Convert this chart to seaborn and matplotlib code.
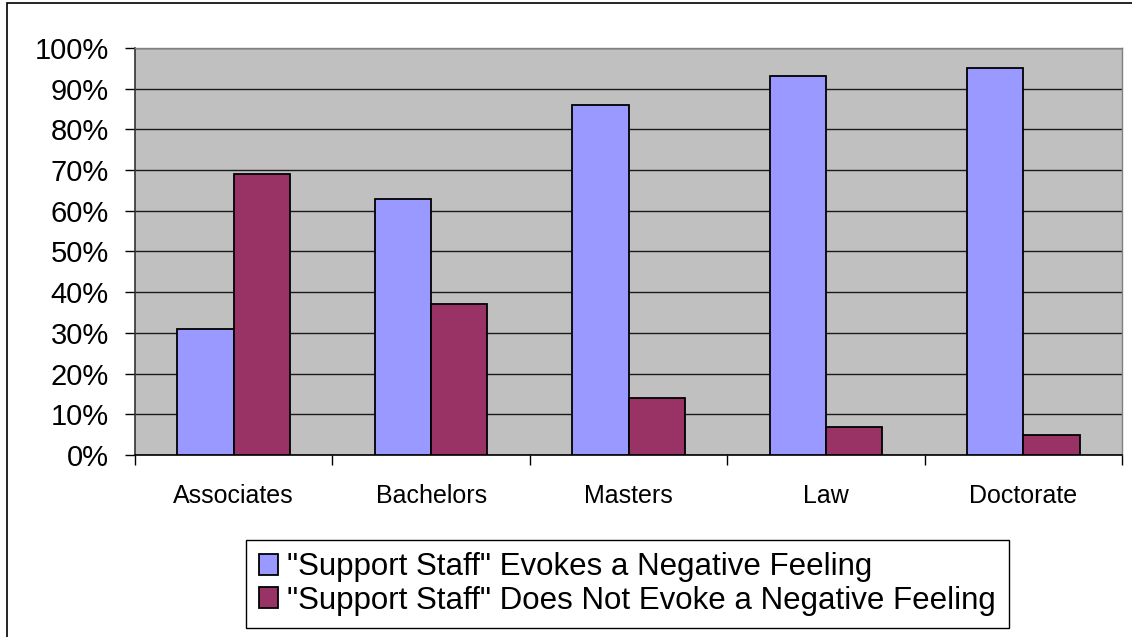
import pandas as pd
import matplotlib
matplotlib.use("Agg")
import matplotlib.pyplot as plt
import seaborn as sns
from matplotlib.patches import Rectangle
from matplotlib.ticker import FixedLocator, PercentFormatter

# Données
degrees = ["Associates", "Bachelors", "Masters", "Law", "Doctorate"]
negative = [31, 63, 86, 93, 95]
not_negative = [69, 37, 14, 7, 5]
series_names = ['"Support Staff" Evokes a Negative Feeling',
                '"Support Staff" Does Not Evoke a Negative Feeling']
colors = ["#9999FF", "#993366"]

df = pd.DataFrame({
    "degree": degrees * 2,
    "pct": negative + not_negative,
    "series": [series_names[0]] * len(degrees) + [series_names[1]] * len(degrees),
})

sns.set_style("white")
plt.rcParams["font.family"] = ["Liberation Sans", "DejaVu Sans"]
plt.rcParams["text.color"] = "black"
plt.rcParams["xtick.color"] = "black"
plt.rcParams["ytick.color"] = "black"

fig = plt.figure(figsize=(11.32, 6.37), dpi=100)
ax = fig.add_axes([0.1193, 0.2857, 0.8719, 0.639])

sns.barplot(data=df, x="degree", y="pct", hue="series", palette=colors,
            saturation=1, width=0.57, edgecolor="black", linewidth=1.3,
            ax=ax, zorder=3)

ax.set_facecolor("#C0C0C0")
ax.set_ylim(0, 100)
ax.set_xlim(-0.5, len(degrees) - 0.5)
ax.set_yticks(range(0, 101, 10))
ax.yaxis.set_major_formatter(PercentFormatter(decimals=0))
ax.grid(axis="y", color="#1a1a1a", linewidth=1, zorder=0)
ax.set_axisbelow(True)
ax.set_xlabel("")
ax.set_ylabel("")

for s in ["top", "right"]:
    ax.spines[s].set_color("#808080")
    ax.spines[s].set_linewidth(1)
ax.spines["left"].set_color("#333333")
ax.spines["bottom"].set_color("black")
ax.spines["left"].set_linewidth(1.2)
ax.spines["bottom"].set_linewidth(1.2)

ax.tick_params(axis="y", direction="out", length=7, width=1, color="black",
               labelsize=21, pad=12, left=True)
ax.tick_params(axis="x", which="major", length=0, labelsize=18, pad=21)
ax.xaxis.set_minor_locator(FixedLocator([i - 0.5 for i in range(len(degrees) + 1)]))
ax.tick_params(axis="x", which="minor", direction="out", length=7, width=1,
               color="black", bottom=True)

handles, labels = ax.get_legend_handles_labels()
leg = ax.legend(handles, labels, loc="upper center", bbox_to_anchor=(0.5543, 0.1523),
                bbox_transform=fig.transFigure, frameon=True, fancybox=False,
                edgecolor="black", fontsize=22.5, handlelength=0.62, handleheight=0.62,
                handletextpad=0.3, borderpad=0.4, borderaxespad=0,
                labelspacing=0.1, framealpha=1)
leg.get_frame().set_linewidth(1)

# cadre extérieur (bords gauche et haut visibles)
fig.patches.append(Rectangle((7 / 1132, -0.05), 1.2, 1.05 - 3 / 637,
                             transform=fig.transFigure, fill=False,
                             edgecolor="black", linewidth=1.2))

fig.savefig("out.png", dpi=100)
